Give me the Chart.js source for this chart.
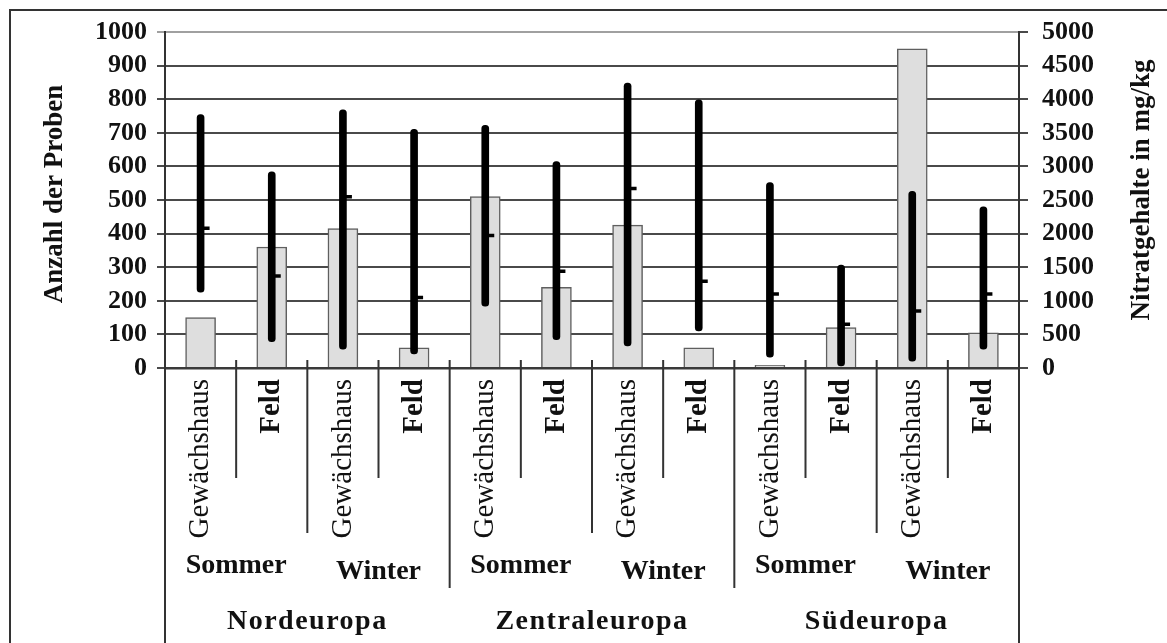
<!DOCTYPE html>
<html>
<head>
<meta charset="utf-8">
<script src="https://cdn.jsdelivr.net/npm/chart.js@4.4.0/dist/chart.umd.min.js"></script>
<style>
    html, body { margin: 0; padding: 0; background: #fff; overflow: hidden; }
    #wrap { position: relative; width: 1167px; height: 643px; }
</style>
</head>
<body>
<div id="wrap"><canvas id="nitratChart"></canvas></div>
<script>
// Kategorien (drei Ebenen der x-Achse)
const anbau = ['Gewächshaus', 'Feld', 'Gewächshaus', 'Feld', 'Gewächshaus', 'Feld',
    'Gewächshaus', 'Feld', 'Gewächshaus', 'Feld', 'Gewächshaus', 'Feld'];
const jahreszeiten = ['Sommer', 'Winter', 'Sommer', 'Winter', 'Sommer', 'Winter'];
const regionen = ['Nordeuropa', 'Zentraleuropa', 'Südeuropa'];

// Anzahl der Proben (linke Achse)
const anzahlProben = [150, 360, 415, 60, 510, 240, 425, 60, 8, 120, 950, 105];

// Nitratgehalte in mg/kg (rechte Achse)
const nitratMin = [1130, 390, 280, 210, 920, 420, 330, 550, 160, 30, 100, 280];
const nitratMax = [3770, 2920, 3840, 3550, 3610, 3070, 4240, 3990, 2760, 1530, 2630, 2400];
const nitratMittel = [2080, 1370, 2550, 1050, 1970, 1440, 2670, 1290, 1100, 650, 850, 1100];

const achseLinksMax = 1000;
const achseRechtsMax = 5000;

const SERIF = "'Liberation Serif', 'Times New Roman', serif";

// mehrstufige Beschriftung unter der Achse, Achsentitel und Rahmen
const kategorieAchse = {
    id: 'kategorieAchse',
    afterDraw(chart) {
        const { ctx, chartArea } = chart;
        const x = chart.scales.x;
        const n = anbau.length;
        const kante = i => i === 0 ? chartArea.left
            : i === n ? chartArea.right
            : (x.getPixelForValue(i - 1) + x.getPixelForValue(i)) / 2;
        const unten = chartArea.bottom;

        ctx.save();
        ctx.strokeStyle = '#333';
        ctx.lineWidth = 2;
        ctx.beginPath();
        for (let i = 1; i < n; i++) {
            const ende = i % 4 === 0 ? 588 : i % 2 === 0 ? 533 : 478;
            ctx.moveTo(kante(i), unten - 8);
            ctx.lineTo(kante(i), ende);
        }
        ctx.moveTo(kante(0), unten);
        ctx.lineTo(kante(0), chart.height);
        ctx.moveTo(kante(n), unten);
        ctx.lineTo(kante(n), chart.height);
        // Rahmen
        ctx.moveTo(10, chart.height);
        ctx.lineTo(10, 10);
        ctx.lineTo(chart.width, 10);
        ctx.stroke();

        ctx.fillStyle = '#111';

        // Gewächshaus / Feld
        anbau.forEach((txt, i) => {
            ctx.save();
            ctx.translate(x.getPixelForValue(i), 379);
            ctx.rotate(-Math.PI / 2);
            ctx.font = (txt === 'Feld' ? 'bold ' : '') + '29px ' + SERIF;
            ctx.textAlign = 'right';
            ctx.textBaseline = 'middle';
            ctx.fillText(txt, 0, 0);
            ctx.restore();
        });

        // Sommer / Winter
        ctx.font = 'bold 28px ' + SERIF;
        ctx.textAlign = 'center';
        ctx.textBaseline = 'middle';
        jahreszeiten.forEach((txt, j) => {
            const mitte = (kante(2 * j) + kante(2 * j + 2)) / 2;
            ctx.fillText(txt, mitte, j % 2 ? 572 : 566);
        });

        // Regionen
        ctx.font = 'bold 28px ' + SERIF;
        ctx.letterSpacing = '1.5px';
        regionen.forEach((txt, k) => {
            const mitte = (kante(4 * k) + kante(4 * k + 4)) / 2;
            ctx.fillText(txt, mitte, 622);
        });
        ctx.letterSpacing = '0px';

        // Achsentitel
        ctx.font = 'bold 27px ' + SERIF;
        [['Anzahl der Proben', 55, 194], ['Nitratgehalte in mg/kg', 1142, 190]].forEach(([txt, px, py]) => {
            ctx.save();
            ctx.translate(px, py);
            ctx.rotate(-Math.PI / 2);
            ctx.fillText(txt, 0, 0);
            ctx.restore();
        });
        ctx.restore();
    }
};

const tickFont = { family: SERIF, size: 26, weight: 'bold' };
const ohneTausender = function (value) { return String(value); };

const ctx = document.getElementById('nitratChart').getContext('2d');
const nitratChart = new Chart(ctx, {
    type: 'bar',
    data: {
        labels: anbau,
        datasets: [{
            label: 'Nitrat Mittelwert',
            type: 'line',
            data: nitratMittel,
            yAxisID: 'y2',
            showLine: false,
            pointStyle: 'dash',
            pointRadius: 9,
            pointBorderWidth: 3.5,
            borderColor: '#000',
            backgroundColor: '#000',
            order: 1
        },
        {
            label: 'Nitrat Min/Max',
            data: nitratMin.map((v, i) => [v, nitratMax[i]]),
            yAxisID: 'y2',
            backgroundColor: '#000',
            barThickness: 7,
            borderRadius: 3.5,
            borderSkipped: false,
            grouped: false,
            order: 2
        },
        {
            label: 'Anzahl der Proben',
            data: anzahlProben,
            yAxisID: 'y',
            backgroundColor: '#dedede',
            borderColor: '#5f5f5f',
            borderWidth: 1.5,
            barThickness: 30,
            grouped: false,
            order: 3
        }]
    },
    options: {
        responsive: true,
        maintainAspectRatio: false,
        animation: false,
        layout: { padding: { top: 32, left: 0, right: 0, bottom: 0 } },
        plugins: {
            legend: { display: false },
            tooltip: { enabled: true }
        },
        scales: {
            x: {
                offset: true,
                ticks: { display: false },
                grid: { display: true, drawOnChartArea: false, drawTicks: false },
                border: { color: '#3a3a3a', width: 2.5 },
                afterFit: function (scale) { scale.height = 275; }
            },
            y: {
                position: 'left',
                min: 0,
                max: achseLinksMax,
                ticks: { stepSize: 100, autoSkip: false, padding: 10, color: '#111', font: tickFont, callback: ohneTausender },
                grid: {
                    color: function (c) { return c.tick && c.tick.value === achseLinksMax ? '#a0a0a0' : '#4a4a4a'; },
                    lineWidth: 2,
                    tickLength: 8
                },
                border: { color: '#333', width: 2 },
                afterFit: function (scale) { scale.width = 165; }
            },
            y2: {
                position: 'right',
                min: 0,
                max: achseRechtsMax,
                ticks: { stepSize: 500, autoSkip: false, padding: 14, color: '#111', font: tickFont, callback: ohneTausender },
                grid: { drawOnChartArea: false, color: '#4a4a4a', lineWidth: 2, tickLength: 9 },
                border: { color: '#333', width: 2 },
                afterFit: function (scale) { scale.width = 148; }
            }
        }
    },
    plugins: [kategorieAchse]
});
</script>
</body>
</html>
